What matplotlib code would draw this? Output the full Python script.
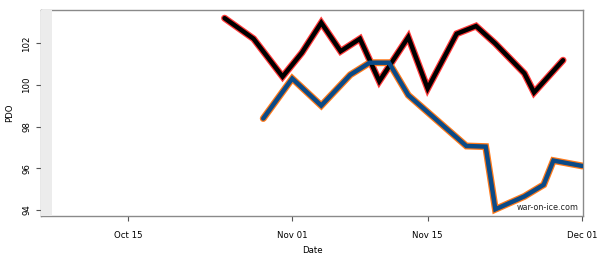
import matplotlib
matplotlib.use("Agg")
import matplotlib.pyplot as plt
import matplotlib.dates as mdates
import numpy as np
import datetime as dt

# Data
red_dates = ["2013-10-25", "2013-10-28", "2013-10-31", "2013-11-02", "2013-11-04",
             "2013-11-06", "2013-11-08", "2013-11-10", "2013-11-13", "2013-11-15",
             "2013-11-18", "2013-11-20", "2013-11-22", "2013-11-25", "2013-11-26",
             "2013-11-29"]
red_pdo = [103.21, 102.22, 100.40, 101.55, 102.99,
           101.62, 102.22, 100.18, 102.30, 99.83,
           102.46, 102.83, 101.99, 100.56, 99.64,
           101.19]

blue_dates = ["2013-10-29", "2013-11-01", "2013-11-04", "2013-11-07", "2013-11-09",
              "2013-11-11", "2013-11-13", "2013-11-19", "2013-11-21", "2013-11-22",
              "2013-11-25", "2013-11-27", "2013-11-28", "2013-12-01"]
blue_pdo = [98.39, 100.31, 99.01, 100.49, 101.07,
            101.07, 99.51, 97.07, 97.04, 94.03,
            94.65, 95.21, 96.37, 96.11]

y_ticks = [94, 96, 98, 100, 102]
x_tick_dates = ["2013-10-15", "2013-11-01", "2013-11-15", "2013-12-01"]

def to_dt(lst):
    return [dt.datetime.strptime(s, "%Y-%m-%d") for s in lst]

plt.rcParams['font.family'] = ['DejaVu Sans']

fig = plt.figure(figsize=(6.0, 2.64), dpi=100)
ax = fig.add_axes([0.068, 0.182, 0.904, 0.780])

rd = to_dt(red_dates)
bd = to_dt(blue_dates)

ax.plot(rd, red_pdo, color="#ff3a3a", lw=5.0, solid_capstyle="round", solid_joinstyle="miter", zorder=3)
ax.plot(rd, red_pdo, color="black", lw=3.2, solid_capstyle="round", solid_joinstyle="miter", zorder=4)
ax.plot(bd, blue_pdo, color="#ff7a1a", lw=5.0, solid_capstyle="round", solid_joinstyle="miter", zorder=3)
ax.plot(bd, blue_pdo, color="#0b4a86", lw=3.2, solid_capstyle="round", solid_joinstyle="miter", zorder=4)

x0 = dt.datetime(2013, 10, 6)
x1 = dt.datetime(2013, 12, 1, 2)
ax.set_xlim(x0, x1)
ax.set_ylim(93.71, 103.6)

ax.axvspan(x0, dt.datetime(2013, 10, 7, 4), color="#ececec", lw=0, zorder=5)

ax.set_xticks(to_dt(x_tick_dates))
ax.xaxis.set_major_formatter(mdates.DateFormatter("%b %d"))
ax.set_yticks(y_ticks)
ax.set_yticklabels([str(v) for v in y_ticks], rotation=90, va="center")

for s in ax.spines.values():
    s.set_color("#8a8a8a")
    s.set_linewidth(1.0)
ax.tick_params(axis="both", length=3.5, width=0.8, color="#555555", labelsize=6.2, pad=3.5)
ax.tick_params(axis="x", pad=7)

ax.set_xlabel("Date", fontsize=6.2)
ax.xaxis.set_label_coords(0.5, -0.145)
ax.set_ylabel("PDO", fontsize=6.2)
ax.yaxis.set_label_coords(-0.05, 0.5)

ax.text(0.992, 0.02, "war-on-ice.com", transform=ax.transAxes, ha="right", va="bottom",
        fontsize=5.8, color="#222222", zorder=6)

fig.savefig("out.png", dpi=100)
